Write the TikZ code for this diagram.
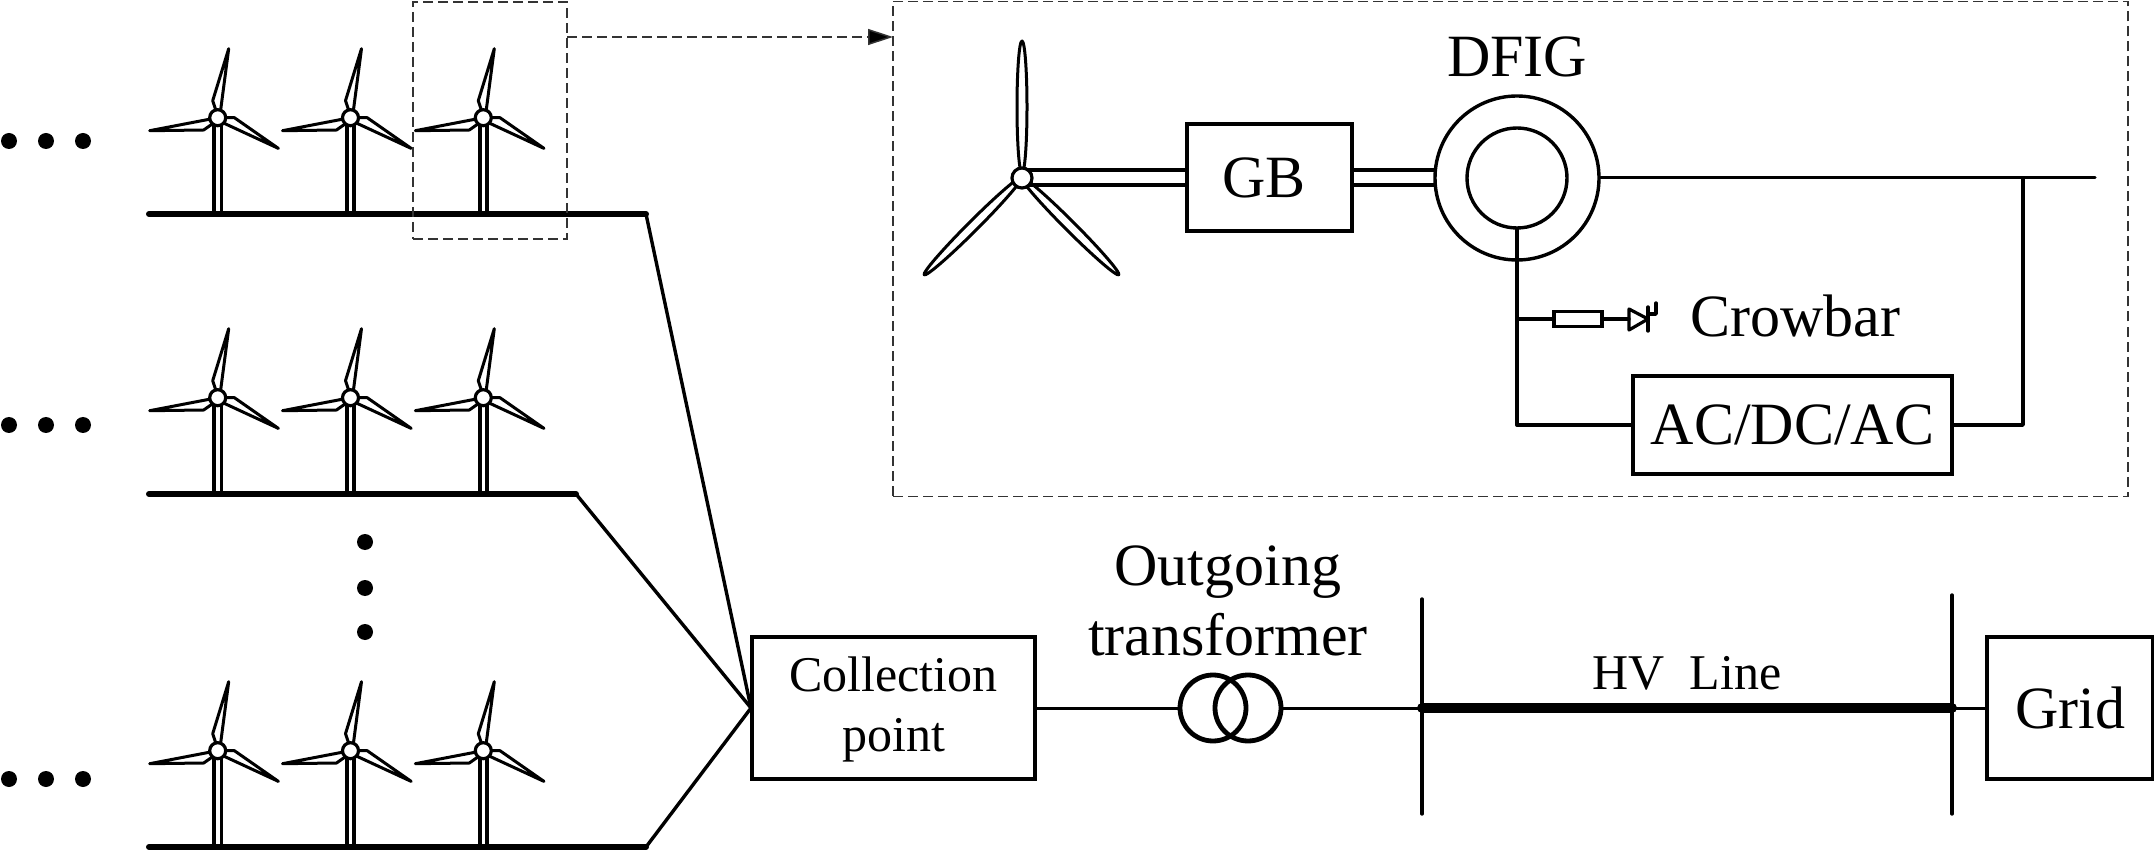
\documentclass[tikz,border=0pt]{standalone}
\usepackage{fontspec}
\setmainfont{Liberation Serif}
\usetikzlibrary{arrows.meta}
\tikzset{
  wire/.style={line width=1.7pt,line cap=round,line join=round},
  busbar/.style={line width=3pt,line cap=round},
  hvbar/.style={line width=5pt,line cap=round},
  thin dash/.style={line width=0.75pt,dash pattern=on 5pt off 2.5pt,draw=black!80},
  bigbox/.style={draw,line width=1.7pt,fill=white,inner sep=0pt,font=\fontsize{30}{33}\selectfont,align=center},
  lab/.style={inner sep=0pt,font=\fontsize{30}{35}\selectfont,align=center},
  dotmark/.style={circle,fill=black,draw=none,minimum size=8pt,inner sep=0pt},
  hubmark/.style={circle,draw,fill=white,line width=1.6pt,inner sep=0pt,minimum size=8pt},
  pics/turbine/.style={code={
    \draw[wire,line width=1.9pt] (-3.7,4)--(-3.7,96.5) (3.7,4)--(3.7,96.5);
    \draw[wire,line width=1.5pt] (3,-8)--(11,-69)--(-5,-17)--(-2,-8);
    \draw[wire,line width=1.5pt] (-8,1.5)--(-68,13)--(-14,12.3)--(-6,6.7);
    \draw[wire,line width=1.5pt] (6.7,5.7)--(60.7,30.7)--(16.7,0)--(8,0);
    \node[hubmark] (-hub) at (0,0) {};
  }}
}
\begin{document}
\begin{tikzpicture}[x=0.5pt,y=-0.5pt]
\useasboundingbox (0,-1) rectangle (2154,849);
% feeders
\coordinate (r1s) at (149,213);\coordinate (r1e) at (646,213);
\coordinate (r2s) at (149,493);\coordinate (r2e) at (576,493);
\coordinate (r3s) at (149,846);\coordinate (r3e) at (646,846);
\coordinate (cpin) at (751,707);
\foreach \x in {217.7,350.5,483.3}{
  \pic at (\x,116.7) {turbine};
  \pic at (\x,396.7) {turbine};
  \pic at (\x,749.7) {turbine};
}
\draw[busbar] (r1s)--(r1e);
\draw[busbar] (r2s)--(r2e);
\draw[busbar] (r3s)--(r3e);
\draw[wire] (r1e)--(cpin);
\draw[wire] (r2e)--(cpin);
\draw[wire] (r3e)--(cpin);
% dots
\foreach \y/\n in {140/a,424/b,778/c}{
  \node[dotmark] (d1\n) at (9,\y) {};
  \node[dotmark] (d2\n) at (46,\y) {};
  \node[dotmark] (d3\n) at (83,\y) {};
}
\node[dotmark] (v1) at (365,541) {};
\node[dotmark] (v2) at (365,587) {};
\node[dotmark] (v3) at (365,631) {};
% dashed frames
\node[draw,thin dash,minimum width=77pt,minimum height=118.5pt,inner sep=0pt] (small) at (490,119.5) {};
\node[draw,thin dash,minimum width=617.5pt,minimum height=247.5pt,inner sep=0pt] (big) at (1510.5,248) {};
\coordinate (arrS) at (567,36);\coordinate (arrE) at (893,36);
\draw[thin dash,-{Triangle[length=12.5pt,width=8pt,fill=black]}] (arrS)--(arrE);
% detail turbine
\coordinate (h) at (1022,177);
\draw[wire,line width=1.5pt] (1022,106) ellipse [x radius=5,y radius=66];
\draw[wire,line width=1.5pt,rotate around={-45:(973,225)}] (973,225) ellipse [x radius=5,y radius=69];
\draw[wire,line width=1.5pt,rotate around={45:(1070,225)}] (1070,225) ellipse [x radius=5,y radius=69];
\node[bigbox,minimum width=82.5pt,minimum height=53.5pt] (gb) at (1269.5,176.5) {GB\hspace{5.5pt}};
\node[circle,draw,line width=1.7pt,minimum size=82pt,inner sep=0pt] (gen) at (1517,177) {};
\node[circle,draw,line width=1.7pt,minimum size=50pt,inner sep=0pt] (rot) at (1517,177) {};
\draw[wire] (1022,169)--(gb.west |- 1022,169) (1022,184)--(gb.west |- 1022,184);
\draw[wire] (gb.east |- 1022,169)--(gen.west |- 1022,169) (gb.east |- 1022,184)--(gen.west |- 1022,184);
\node[hubmark,minimum size=10pt,fill=white] (bighub) at (h) {};
\node[lab] (dfig) at (1517,56) {DFIG};
\coordinate (outend) at (2095,177);
\coordinate (tap) at (2023,177);
\draw[wire,line width=1.5pt] (gen.east)--(outend);
\node[bigbox,minimum width=159.5pt,minimum height=49pt] (conv) at (1792.5,424) {AC/DC/AC};
\draw[wire] (tap)--(tap |- conv.east)--(conv.east);
\draw[wire] (rot.south)--(rot.south |- conv.west)--(conv.west);
% crowbar
\coordinate (cb) at (1517,318);
\node[draw,line width=1.6pt,minimum width=24pt,minimum height=7.5pt,inner sep=0pt] (res) at (1578,318) {};
\coordinate (dbase) at (1629,318);
\coordinate (dtip) at (1648,318);
\draw[wire] (cb)--(res.west);
\draw[wire] (res.east)--(dbase);
\draw[wire,line width=1.6pt] (1629,308)--(dtip)--(1629,329)--cycle;
\draw[wire,line width=1.7pt] (1648,306)--(1648,330);
\draw[wire,line width=1.7pt] (1648,313)--(1656,313)--(1656,302);
\node[lab] (crow) at (1795,315) {Crowbar};
% lower chain
\node[bigbox,minimum width=141.5pt,minimum height=71pt] (cp) at (893.5,707) {};
\node[inner sep=0pt,align=center,font=\fontsize{25}{30}\selectfont] (cptext) at (893.5,708.5) {Collection\\point};
\node[bigbox,minimum width=83pt,minimum height=71pt] (grid) at (2070,707) {Grid};
\node[circle,draw,line width=2.4pt,minimum size=33pt,inner sep=0pt] (t1) at (1213,707) {};
\node[circle,draw,line width=2.4pt,minimum size=33pt,inner sep=0pt] (t2) at (1248,707) {};
\node[lab] (otr) at (1228,600) {Outgoing\\transformer};
\coordinate (b1t) at (1422,598);\coordinate (b1b) at (1422,813);
\coordinate (b2t) at (1952,594);\coordinate (b2b) at (1952,813);
\coordinate (b1) at (1422,707);\coordinate (b2) at (1952,707);
\draw[wire] (b1t)--(b1b);
\draw[wire] (b2t)--(b2b);
\draw[hvbar] (b1)--(b2);
\draw[wire,line width=1.5pt] (cp.east)--(t1.west);
\draw[wire,line width=1.5pt] (t2.east)--(b1);
\draw[wire,line width=1.5pt] (b2)--(grid.west);
\node[inner sep=0pt,font=\fontsize{25}{30}\selectfont] (hv) at (1687,672) {HV\ \ Line};
\end{tikzpicture}
\end{document}
